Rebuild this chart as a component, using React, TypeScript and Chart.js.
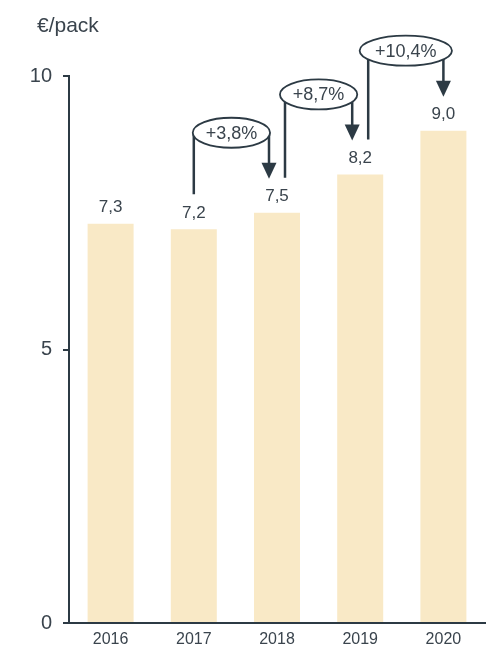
import React, { useEffect, useRef } from "react";
import { Chart, registerables } from "chart.js";

Chart.register(...registerables);

const categories = ["2016", "2017", "2018", "2019", "2020"];
const prices = [7.3, 7.2, 7.5, 8.2, 9.0];
const yTicks = [0, 5, 10];
const changeFrom = [1, 2, 3];
const changeTo = [2, 3, 4];
const changeLabels = ["+3,8%", "+8,7%", "+10,4%"];
const unitLabel = "€/pack";

const FONT = "'Liberation Sans', Arial, Helvetica, sans-serif";
const TEXT = "#3a444d";
const LINE = "#2c3a44";
const BAR = "#f9e9c6";

const fmt = (v: number) => v.toFixed(1).replace(".", ",");

const overlayPlugin = {
  id: "overlay",
  afterDatasetsDraw(chart: any) {
    const ctx = chart.ctx as CanvasRenderingContext2D;
    const xs = chart.scales.x;
    const ys = chart.scales.y;
    ctx.save();

    // unit title
    ctx.fillStyle = TEXT;
    ctx.font = `21px ${FONT}`;
    ctx.textAlign = "left";
    ctx.textBaseline = "alphabetic";
    ctx.fillText(unitLabel, 37, 32);

    // value labels
    ctx.font = `17px ${FONT}`;
    ctx.textAlign = "center";
    ctx.textBaseline = "middle";
    prices.forEach((v, i) => {
      const px = xs.getPixelForValue(i);
      const py = ys.getPixelForValue(v);
      ctx.fillText(fmt(v), px, py - 16);
    });

    // change annotations
    const hasIn = (k: number) => changeTo.includes(k);
    const hasOut = (k: number) => changeFrom.includes(k);
    changeLabels.forEach((label, i) => {
      const fi = changeFrom[i];
      const ti = changeTo[i];
      const x1 = xs.getPixelForValue(fi) + (hasIn(fi) ? 8 : 0);
      const x2 = xs.getPixelForValue(ti) - (hasOut(ti) ? 8 : 0);
      const yStart = ys.getPixelForValue(prices[fi]) - 35;
      const yTip = ys.getPixelForValue(prices[ti]) - 34;
      const ey = ys.getPixelForValue(prices[ti]) - 80;
      const ex = (x1 + x2) / 2;

      ctx.strokeStyle = LINE;
      ctx.fillStyle = LINE;
      ctx.lineWidth = 2.5;
      ctx.beginPath();
      ctx.moveTo(x1, yStart);
      ctx.lineTo(x1, ey);
      ctx.moveTo(x2, ey);
      ctx.lineTo(x2, yTip - 14);
      ctx.stroke();

      ctx.beginPath();
      ctx.moveTo(x2 - 7.5, yTip - 16);
      ctx.lineTo(x2 + 7.5, yTip - 16);
      ctx.lineTo(x2, yTip);
      ctx.closePath();
      ctx.fill();

      ctx.font = `18px ${FONT}`;
      const tw = ctx.measureText(label).width;
      const rx = Math.max(tw * 0.75, (x2 - x1) / 2 + 1);
      ctx.beginPath();
      ctx.ellipse(ex, ey, rx, 15, 0, 0, Math.PI * 2);
      ctx.fillStyle = "#ffffff";
      ctx.fill();
      ctx.lineWidth = 1.8;
      ctx.stroke();

      ctx.fillStyle = TEXT;
      ctx.textAlign = "center";
      ctx.textBaseline = "middle";
      ctx.fillText(label, ex, ey + 1);
    });

    ctx.restore();
  },
};

export default function App() {
  const ref = useRef<HTMLCanvasElement | null>(null);

  useEffect(() => {
    if (!ref.current) return;
    const chart = new Chart(ref.current, {
      type: "bar",
      data: {
        labels: categories,
        datasets: [
          {
            data: prices,
            backgroundColor: BAR,
            borderWidth: 0,
            barPercentage: 0.553,
            categoryPercentage: 1,
          },
        ],
      },
      options: {
        animation: false,
        responsive: true,
        maintainAspectRatio: false,
        layout: { padding: { top: 76, right: 8, left: 0, bottom: 0 } },
        plugins: {
          legend: { display: false },
          tooltip: { enabled: false },
        },
        scales: {
          x: {
            grid: { display: false, drawTicks: false },
            border: { display: true, color: LINE, width: 2 },
            ticks: {
              color: TEXT,
              font: { size: 16, family: FONT },
              padding: 7,
            },
            afterFit(scale: any) {
              scale.height = 24;
            },
          },
          y: {
            min: 0,
            max: 10,
            afterBuildTicks(scale: any) {
              scale.ticks = yTicks.map((v) => ({ value: v }));
            },
            grid: {
              display: true,
              drawOnChartArea: false,
              drawTicks: true,
              tickLength: 6,
              color: LINE,
              lineWidth: 2,
            },
            border: { display: true, color: LINE, width: 2 },
            ticks: {
              color: TEXT,
              font: { size: 20, family: FONT },
              padding: 11,
            },
            afterFit(scale: any) {
              scale.width = 69;
            },
          },
        },
      },
      plugins: [overlayPlugin],
    });
    return () => chart.destroy();
  }, []);

  return (
    <div style={{ position: "absolute", left: 0, top: 0, width: 493, height: 647 }}>
      <canvas ref={ref} />
    </div>
  );
}
